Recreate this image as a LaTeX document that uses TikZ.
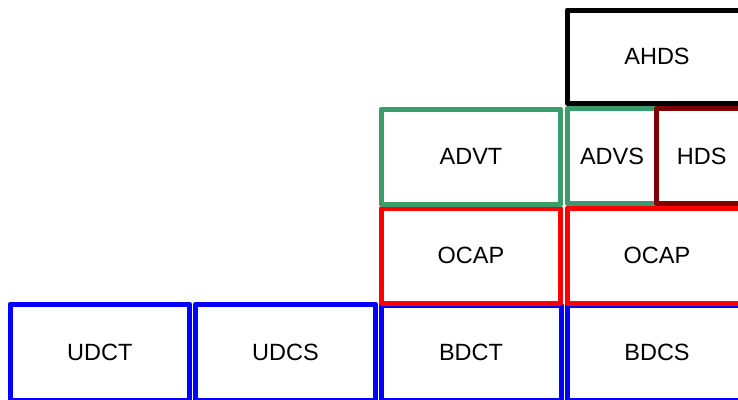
\documentclass[tikz,border=0pt]{standalone}
\usepackage{fontspec}
\setmainfont{Liberation Sans}
\definecolor{advgreen}{HTML}{3A9B6B}
\definecolor{hdsred}{HTML}{800000}
\tikzset{
  cell/.style={draw, line width=5pt, line join=round, fill=white,
    inner sep=0pt, font=\fontsize{23.5}{27}\selectfont, text=black},
  bluecell/.style={cell, draw=blue},
  redcell/.style={cell, draw=red},
  greencell/.style={cell, draw=advgreen},
  darkcell/.style={cell, draw=hdsred},
  blackcell/.style={cell, draw=black},
}
\begin{document}
\begin{tikzpicture}[x=1pt, y=-1pt]
  \useasboundingbox (0,0) rectangle (738,399);
  % bottom row
  \node[bluecell, minimum width=179.5pt, minimum height=96pt] (udct) at (99.75,352) {UDCT};
  \node[bluecell, minimum width=180pt, minimum height=96pt] (udcs) at (285.5,352) {UDCS};
  \node[bluecell, minimum width=180pt, minimum height=95pt] (bdct) at (471,352.5) {BDCT};
  \node[bluecell, minimum width=180pt, minimum height=95pt] (bdcs) at (657,352.5) {BDCS};
  % OCAP row
  \node[redcell, minimum width=179pt, minimum height=95pt] (ocapt) at (471,255.5) {OCAP};
  \node[redcell, minimum width=180pt, minimum height=95pt] (ocaps) at (657,255.5) {OCAP};
  % ADV / HDS row
  \node[greencell, minimum width=179pt, minimum height=95pt] (advt) at (471,156.5) {ADVT};
  \node[greencell, minimum width=89pt, minimum height=95pt] (advs) at (612,156) {ADVS};
  \node[darkcell, minimum width=90.5pt, minimum height=95pt] (hds) at (701.75,156) {HDS};
  % top
  \node[blackcell, minimum width=180pt, minimum height=93pt] (ahds) at (657,56.5) {AHDS};
\end{tikzpicture}
\end{document}
